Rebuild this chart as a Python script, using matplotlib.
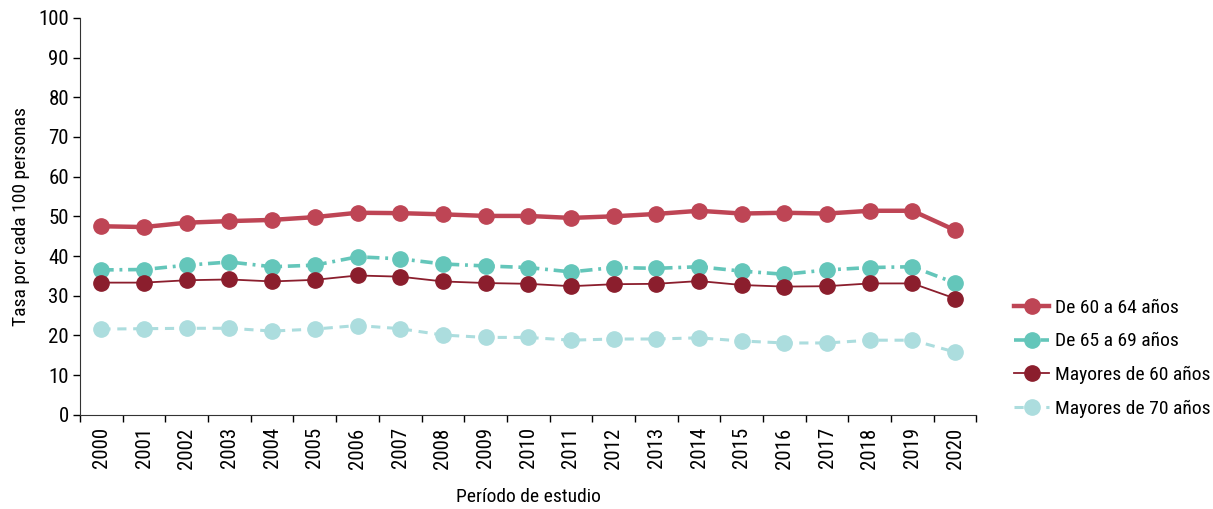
import matplotlib
matplotlib.use('Agg')
from matplotlib import pyplot as plt
from matplotlib.ticker import FixedLocator, NullFormatter

plt.rcParams['font.family'] = ['Roboto Condensed', 'Liberation Sans', 'DejaVu Sans']

years = [str(y) for y in range(2000, 2021)]

de_60_64 = [47.5, 47.3, 48.4, 48.8, 49.1, 49.8, 50.9, 50.8, 50.5, 50.1, 50.1,
            49.6, 50.0, 50.6, 51.4, 50.7, 50.9, 50.7, 51.4, 51.4, 46.5]
de_65_69 = [36.5, 36.6, 37.7, 38.5, 37.3, 37.7, 39.8, 39.3, 38.0, 37.5, 37.1,
            36.0, 37.1, 36.9, 37.3, 36.2, 35.4, 36.5, 37.1, 37.3, 33.2]
mayores_60 = [33.3, 33.3, 33.9, 34.1, 33.6, 34.0, 35.1, 34.8, 33.6, 33.2, 33.0,
              32.4, 32.9, 33.0, 33.7, 32.7, 32.3, 32.4, 33.1, 33.1, 29.3]
mayores_70 = [21.6, 21.7, 21.8, 21.8, 21.1, 21.6, 22.5, 21.7, 20.1, 19.5, 19.5,
              18.8, 19.1, 19.1, 19.4, 18.6, 18.1, 18.1, 18.8, 18.8, 15.8]

x = list(range(len(years)))

fig = plt.figure(figsize=(12.13, 5.09), dpi=100)
ax = fig.add_axes([0.066, 0.185, 0.739, 0.78])

ax.plot(x, de_60_64, color='#BE4555', lw=3.2, marker='o', ms=11,
        label='De 60 a 64 años')
ax.plot(x, de_65_69, color='#64C6BA', lw=2.6, ls=(0, (3.4, 1.6, 0.8, 1.6)), marker='o', ms=11,
        label='De 65 a 69 años')
ax.plot(x, mayores_60, color='#8B1E2D', lw=1.3, marker='o', ms=11,
        label='Mayores de 60 años')
ax.plot(x, mayores_70, color='#ACDDDE', lw=2.2, ls=(0, (3, 2.2)), marker='o', ms=11,
        label='Mayores de 70 años')

ax.set_xlim(-0.5, len(years) - 0.5)
ax.set_ylim(0, 100)
ax.set_yticks(range(0, 101, 10))
ax.set_xticks(x)
ax.set_xticklabels(years, rotation=90)
ax.xaxis.set_minor_locator(FixedLocator([i - 0.5 for i in range(len(years) + 1)]))
ax.xaxis.set_minor_formatter(NullFormatter())
ax.tick_params(axis='x', which='major', length=0, labelsize=15, pad=9)
ax.tick_params(axis='x', which='minor', length=5, width=1, direction='out')
ax.tick_params(axis='y', length=5, width=1, labelsize=15, pad=3)

for s in ['top', 'right']:
    ax.spines[s].set_visible(False)
for s in ['left', 'bottom']:
    ax.spines[s].set_color('#333333')

ax.set_xlabel('Período de estudio', fontsize=14, labelpad=14)
ax.set_ylabel('Tasa por cada 100 personas', fontsize=14, labelpad=6)

ax.legend(loc='upper left', bbox_to_anchor=(1.042, 0.292), frameon=False,
          fontsize=14, handlelength=1.8, handletextpad=0.3, labelspacing=0.8,
          borderaxespad=0, borderpad=0)

plt.savefig('out.png', dpi=100)
